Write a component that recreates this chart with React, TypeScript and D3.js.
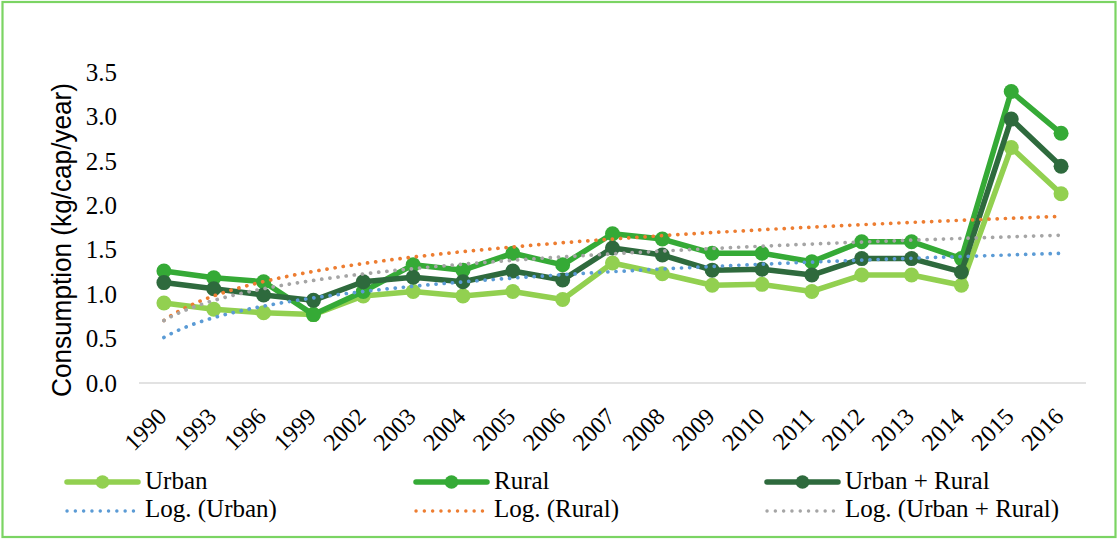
import React from "react";
import * as d3 from "d3";

// Survey years (categorical axis)
const years = [
  "1990", "1993", "1996", "1999", "2002", "2003", "2004", "2005", "2006", "2007",
  "2008", "2009", "2010", "2011", "2012", "2013", "2014", "2015", "2016",
];

// Consumption, kg per capita per year
const urban = [0.9, 0.83, 0.79, 0.77, 0.98, 1.03, 0.98, 1.03, 0.94, 1.35, 1.23, 1.1, 1.11, 1.03, 1.215, 1.215, 1.1, 2.65, 2.13];
const rural = [1.26, 1.185, 1.14, 0.77, 1.03, 1.33, 1.27, 1.46, 1.33, 1.68, 1.62, 1.46, 1.46, 1.365, 1.59, 1.59, 1.4, 3.28, 2.81];
const urbanRural = [1.13, 1.06, 0.99, 0.93, 1.14, 1.19, 1.14, 1.26, 1.16, 1.52, 1.44, 1.27, 1.28, 1.215, 1.4, 1.4, 1.25, 2.97, 2.44];

const yTicks = [0, 0.5, 1, 1.5, 2, 2.5, 3, 3.5];

const W = 1117;
const H = 539;
const plot = { left: 139, right: 1086, top: 72, bottom: 383 };

const serif = "Liberation Serif, Tinos, Times New Roman, Nimbus Roman, DejaVu Serif, serif";
const sans = "Liberation Sans, Arial, sans-serif";

type Series = { name: string; values: number[]; color: string; trendColor: string };

const series: Series[] = [
  { name: "Urban", values: urban, color: "#92D050", trendColor: "#5B9BD5" },
  { name: "Rural", values: rural, color: "#35AA36", trendColor: "#ED7D31" },
  { name: "Urban + Rural", values: urbanRural, color: "#2E6A3D", trendColor: "#A5A5A5" },
];

// Least-squares fit of y = a*ln(x) + b, x = 1..n (logarithmic trendline)
function logFit(values: number[]) {
  const xs = values.map((_, i) => Math.log(i + 1));
  const mx = d3.mean(xs)!;
  const my = d3.mean(values)!;
  let sxy = 0;
  let sxx = 0;
  xs.forEach((x, i) => {
    sxy += (x - mx) * (values[i] - my);
    sxx += (x - mx) * (x - mx);
  });
  const a = sxy / sxx;
  const b = my - a * mx;
  return (x: number) => a * Math.log(x) + b;
}

export default function App() {
  const x = d3.scaleBand<string>().domain(years).range([plot.left, plot.right]);
  const cx = (i: number) => (x(years[i]) ?? 0) + x.bandwidth() / 2;
  const y = d3.scaleLinear().domain([0, 3.5]).range([plot.bottom, plot.top]);
  const xTrend = d3.scaleLinear().domain([1, years.length]).range([cx(0), cx(years.length - 1)]);

  const line = d3
    .line<number>()
    .x((_, i) => cx(i))
    .y((d) => y(d));

  const samples = d3.range(1, years.length + 0.001, 0.05);

  const legendCols = [67, 416, 767];
  const legendRow1 = 482;
  const legendRow2 = 511;

  return (
    <svg
      width={W}
      height={H}
      style={{ position: "absolute", left: 0, top: 0, background: "#fff" }}
    >
      <rect x={2.5} y={2} width={1113} height={535} fill="#fff" stroke="#7BD463" strokeWidth={2.2} />

      {/* baseline */}
      <line x1={plot.left} x2={plot.right} y1={y(0)} y2={y(0)} stroke="#D9D9D9" strokeWidth={1.5} />

      {/* y ticks */}
      <g style={{ fontFamily: serif }}>
        {yTicks.map((t) => (
          <text key={t} x={117} y={y(t)} dy="0.35em" textAnchor="end" fontSize={25} fill="#000">
            {t.toFixed(1)}
          </text>
        ))}
      </g>

      {/* y axis title */}
      <text
        transform={`translate(71, 240) rotate(-90)`}
        textAnchor="middle"
        style={{ fontFamily: sans }}
        fontSize={27}
        textLength={314}
        lengthAdjust="spacingAndGlyphs"
        fill="#000"
      >
        Consumption (kg/cap/year)
      </text>

      {/* x labels */}
      <g style={{ fontFamily: serif }}>
        {years.map((yr, i) => (
          <text
            key={yr}
            transform={`translate(${cx(i) + 4}, 418) rotate(-45)`}
            textAnchor="end"
            fontSize={24}
            fill="#000"
          >
            {yr}
          </text>
        ))}
      </g>

      {/* data series */}
      {series.map((s) => (
        <g key={s.name}>
          <path d={line(s.values) ?? ""} fill="none" stroke={s.color} strokeWidth={5.5} strokeLinejoin="round" />
          {s.values.map((v, i) => (
            <circle key={i} cx={cx(i)} cy={y(v)} r={7.5} fill={s.color} />
          ))}
        </g>
      ))}

      {/* logarithmic trendlines */}
      {series.map((s) => {
        const f = logFit(s.values);
        const pts = samples.map((t) => [t, y(f(t))] as [number, number]);
        const d = d3
          .line<[number, number]>()
          .x((p) => xTrend(p[0]))
          .y((p) => p[1])(pts);
        return (
          <path
            key={`trend-${s.name}`}
            d={d ?? ""}
            fill="none"
            stroke={s.trendColor}
            strokeWidth={3.7}
            strokeDasharray="0.1 8.1"
            strokeLinecap="round"
          />
        );
      })}

      {/* legend */}
      <g style={{ fontFamily: serif }}>
        {series.map((s, i) => {
          const lx = legendCols[i];
          return (
            <g key={`leg-${s.name}`}>
              <line x1={lx} x2={lx + 71} y1={legendRow1} y2={legendRow1} stroke={s.color} strokeWidth={5.5} strokeLinecap="round" />
              <circle cx={lx + 35.5} cy={legendRow1} r={6.8} fill={s.color} />
              <text x={lx + 78} y={legendRow1 + 6.5} fontSize={25} fill="#000">
                {s.name}
              </text>
              <line
                x1={lx}
                x2={lx + 69}
                y1={legendRow2}
                y2={legendRow2}
                stroke={s.trendColor}
                strokeWidth={3.4}
                strokeDasharray="0.1 8.2"
                strokeLinecap="round"
              />
              <text x={lx + 78} y={legendRow2 + 6} fontSize={25} fill="#000">
                {`Log. (${s.name})`}
              </text>
            </g>
          );
        })}
      </g>
    </svg>
  );
}
